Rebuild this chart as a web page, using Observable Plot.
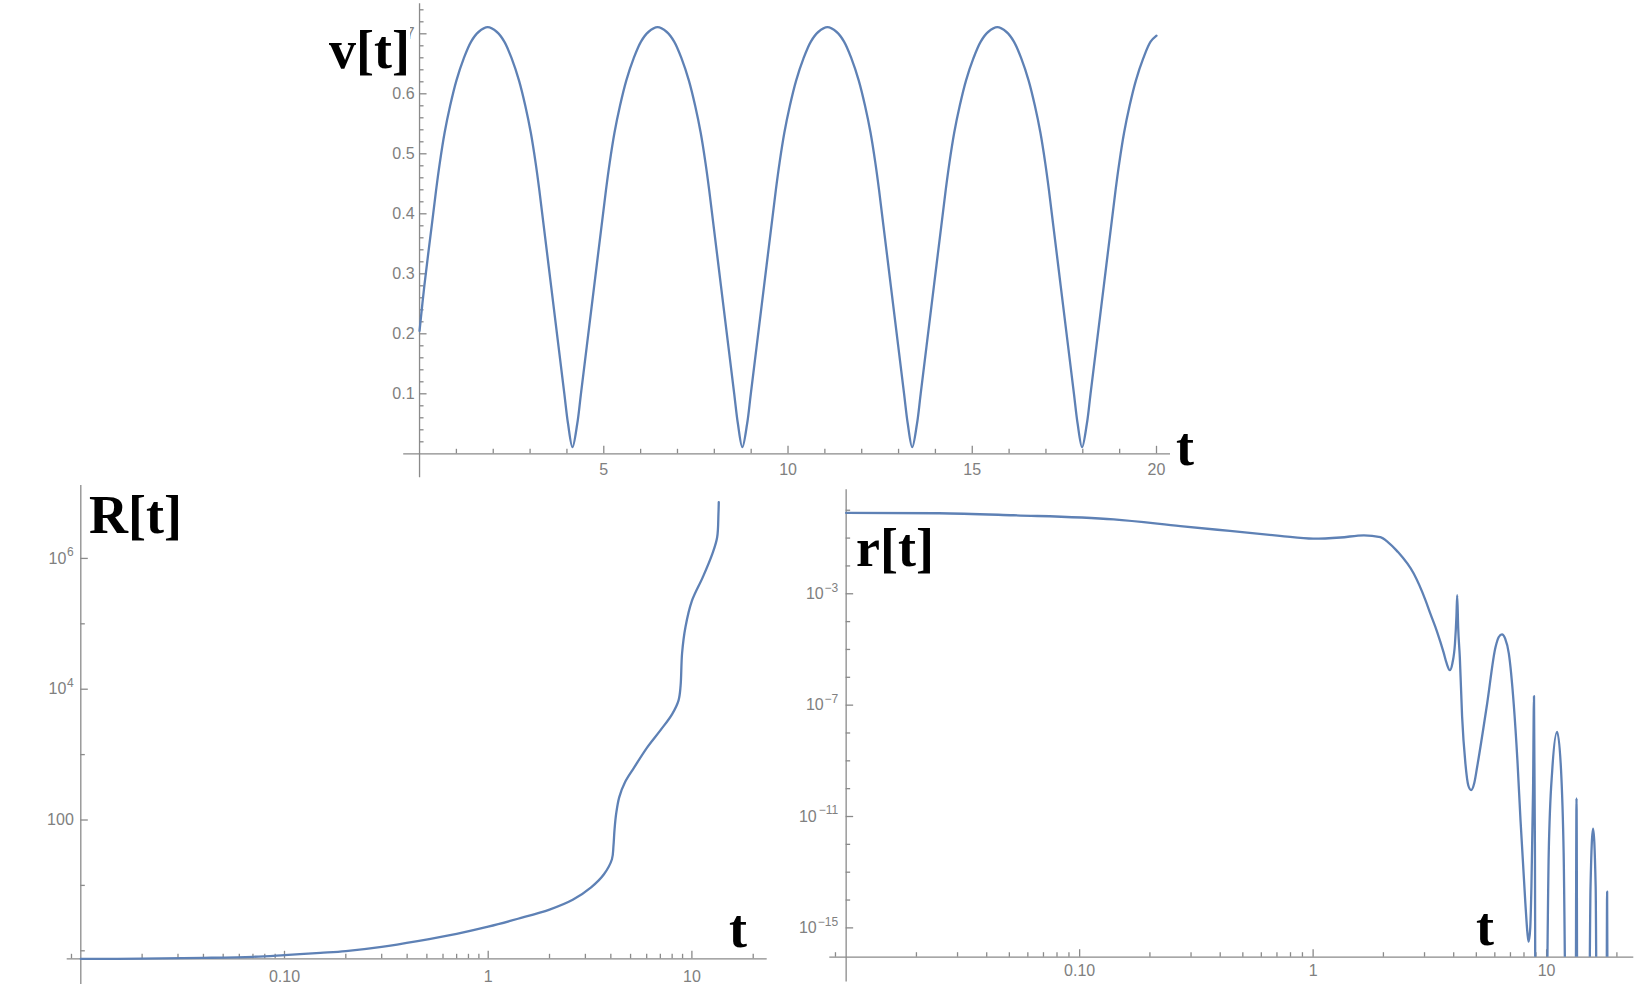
<!DOCTYPE html>
<html><head><meta charset="utf-8">
<script src="https://cdn.jsdelivr.net/npm/d3@7"></script>
<script src="https://cdn.jsdelivr.net/npm/@observablehq/plot@0.6"></script>
<style>
html,body{margin:0;padding:0;background:#fff;}
#wrap{position:relative;width:1642px;height:998px;overflow:hidden;background:#fff;}
#wrap svg{position:absolute;}
.lbl{position:absolute;font-family:"Liberation Serif","Times New Roman",serif;font-weight:bold;font-size:54px;line-height:54px;color:#000;white-space:nowrap;}
</style></head><body><div id="wrap"></div>
<script>
// ---------- data: v[t] ----------
const vT = [0,0.13,0.33,0.45,0.55,0.68,0.83,1.0,1.2,1.4,1.6,1.85,
 2.10,2.30,2.50,2.70,2.87,3.02,3.15,3.25,3.37,3.57,3.77,3.93,4.03,4.15,
 4.28,4.38,4.54,4.74,4.94,5.06,5.16,5.29,5.44,5.61,5.81,6.01,6.21,6.46,
 6.71,6.91,7.11,7.31,7.48,7.63,7.76,7.86,7.98,8.18,8.38,8.54,8.64,8.76,
 8.89,8.99,9.15,9.35,9.55,9.67,9.77,9.90,10.05,10.22,10.42,10.62,10.82,11.07,
 11.32,11.52,11.72,11.92,12.09,12.24,12.37,12.47,12.59,12.79,12.99,13.15,13.25,13.37,
 13.50,13.60,13.76,13.96,14.16,14.28,14.38,14.51,14.66,14.83,15.03,15.23,15.43,15.68,
 15.93,16.13,16.33,16.53,16.70,16.85,16.98,17.08,17.20,17.40,17.60,17.76,17.86,17.98,
 18.11,18.21,18.37,18.57,18.77,18.89,18.99,19.12,19.27,19.44,19.64,19.84,20.0];
const vV = [0.205,0.28,0.38,0.44,0.485,0.535,0.58,0.622,0.659,0.687,0.703,0.711,
 0.703,0.687,0.659,0.622,0.58,0.535,0.485,0.44,0.38,0.28,0.18,0.10,0.05,0.011,
 0.05,0.10,0.18,0.28,0.38,0.44,0.485,0.535,0.58,0.622,0.659,0.687,0.703,0.711,
 0.703,0.687,0.659,0.622,0.58,0.535,0.485,0.44,0.38,0.28,0.18,0.10,0.05,0.011,
 0.05,0.10,0.18,0.28,0.38,0.44,0.485,0.535,0.58,0.622,0.659,0.687,0.703,0.711,
 0.703,0.687,0.659,0.622,0.58,0.535,0.485,0.44,0.38,0.28,0.18,0.10,0.05,0.011,
 0.05,0.10,0.18,0.28,0.38,0.44,0.485,0.535,0.58,0.622,0.659,0.687,0.703,0.711,
 0.703,0.687,0.659,0.622,0.58,0.535,0.485,0.44,0.38,0.28,0.18,0.10,0.05,0.011,
 0.05,0.10,0.18,0.28,0.38,0.44,0.485,0.535,0.58,0.622,0.659,0.687,0.697];
const vYMajor = [0.1,0.2,0.3,0.4,0.5,0.6,0.7];
const vYLabels = ["0.1","0.2","0.3","0.4","0.5","0.6","0.7"];
const vYMinor = [0.02,0.04,0.06,0.08,0.12,0.14,0.16,0.18,0.22,0.24,0.26,0.28,0.32,0.34,0.36,0.38,0.42,0.44,0.46,0.48,0.52,0.54,0.56,0.58,0.62,0.64,0.66,0.68,0.72,0.74];
const vXMajor = [5,10,15,20];
const vXLabels = ["5","10","15","20"];
const vXMinor = [1,2,3,4,6,7,8,9,11,12,13,14,16,17,18,19];

// ---------- data: R[t] ----------
const RT = [0.01,0.02,0.04,0.07,0.1,0.15,0.2,0.3,0.45,0.7,1,1.4,2,2.6,3.2,3.7,4.05,4.12,4.17,4.25,4.4,4.7,5.2,6,7,8,8.6,8.8,8.95,9.3,10,11.3,12.6,13.3,13.5,13.55];
const RV = [0.75,0.76,0.78,0.81,0.86,0.93,0.99,1.15,1.41,1.82,2.34,3.09,4.27,6.03,9.33,14.8,25.1,39.8,70.8,126,224,380,631,1259,2344,4169,6761,11220,35480,89130,223900,512900,1175000,2089000,4786000,7244000];
const RYMajor = [100,1e4,1e6];
const RYBase = ["100","10","10"];
const RYExp = ["","4","6"];
const RYMinor = [1,10,1000,1e5];

// ---------- data: r[t] ----------
const rT = [0.01,0.025,0.052,0.14,0.27,0.44,0.72,1.0,1.31,1.65,1.94,2.09,2.29,2.70,3.03,3.18,3.39,3.62,3.73,3.85,3.95,4.05,4.11,4.14,4.18,4.25,4.345,4.49,4.62,4.75,4.90,5.04,5.56,6.04,6.24,6.44,6.64,6.89,7.23,7.50,7.73,8.11,8.28,8.375,8.51,8.61,8.75,8.83,8.91,8.97,9.91,10.21,10.57,11.09,11.53,11.83,12.16,13.30,13.43,13.55,15.14,15.42,15.81,16.22,16.44,18.03,18.16,18.28];
const rV = [0.80,0.78,0.66,0.47,0.27,0.18,0.12,0.095,0.105,0.126,0.108,0.072,0.034,0.0052,5.8e-4,1.9e-4,4.5e-5,7.9e-6,3.2e-6,1.8e-6,3.2e-6,1.6e-5,1.6e-4,8.9e-4,6.3e-5,5.0e-6,4.0e-8,7.9e-10,1.3e-10,8.9e-11,1.6e-10,6.0e-10,1.1e-7,1.2e-5,2.8e-5,3.5e-5,2.5e-5,7.1e-6,1.1e-7,1e-9,7.4e-12,7.6e-15,6.3e-16,3.2e-16,1e-15,3.2e-14,1e-10,2.1e-7,1e-12,1e-20,1e-20,4.7e-13,4.6e-10,1.1e-8,4.6e-10,4.7e-13,1e-20,1e-20,4.5e-11,1e-20,1e-20,3.0e-14,3.7e-12,3.0e-14,1e-20,1e-20,2.0e-14,1e-20];
const rYMajor = [1e-3,1e-7,1e-11,1e-15];
const rYBase = ["10","10","10","10"];
const rYExp = ["\u22123","\u22127","\u221211","\u221215"];
const rYMinor = [1,0.1,0.01,1e-4,1e-5,1e-6,1e-8,1e-9,1e-10,1e-12,1e-13,1e-14];

// shared log x ticks
const logXMajor = [0.1,1,10];
const logXLabels = ["0.10","1","10"];
const logXMinor = [0.009,0.02,0.03,0.04,0.05,0.06,0.07,0.08,0.09,0.2,0.3,0.4,0.5,0.6,0.7,0.8,0.9,2,3,4,5,6,7,8,9,20];

// ---------- style ----------
const CURVE = "#5e81b5", AX = "#8a8a8a", AW = 1.3, LBL = "#808080";
const TF = "Liberation Sans, Arial, sans-serif", TS = 16, ES = 12;
const MAJ = 7.5, MIN = 4.5;
const wrap = document.getElementById("wrap");
function place(svg, left, top){ svg.style.left = left+"px"; svg.style.top = top+"px"; wrap.appendChild(svg); }
const expW = s => s.length * ES * 0.58;

function powLabels(vals, base, exps, gap) {
  return [
    Plot.text(vals,{x:()=>0.01,y:d=>d,text:(d,i)=>exps[i],textAnchor:"end",dx:-gap,dy:-6,fill:LBL,fontSize:ES,fontFamily:TF}),
    ...vals.map((v,i)=>Plot.text([v],{x:()=>0.01,y:d=>d,text:()=>base[i],textAnchor:"end",dx:-gap-(exps[i]?expW(exps[i])+0.5:0),fill:LBL,fontSize:TS,fontFamily:TF}))
  ];
}

// ---------- v[t] ----------
{
  const W=1642,H=480,mL=403.2,mR=472,mT=3.3,mB=2.7, xd=[-0.43,20.38], yd=[-0.04,0.75];
  const kx=(W-mL-mR)/(xd[1]-xd[0]), ky=(H-mT-mB)/(yd[1]-yd[0]);
  const data = vT.map((t,i)=>({t, v:vV[i]}));
  const svg = Plot.plot({
    width:W,height:H,marginLeft:mL,marginRight:mR,marginTop:mT,marginBottom:mB,
    x:{domain:xd,axis:null}, y:{domain:yd,axis:null},
    style:{background:"transparent",overflow:"visible"},
    marks:[
      Plot.ruleY([0],{stroke:AX,strokeWidth:AW}),
      Plot.ruleX([0],{stroke:AX,strokeWidth:AW}),
      Plot.ruleY(vYMinor,{y:d=>d,x1:()=>0,x2:()=>MIN/kx,stroke:AX,strokeWidth:AW}),
      Plot.ruleY(vYMajor,{y:d=>d,x1:()=>0,x2:()=>MAJ/kx,stroke:AX,strokeWidth:AW}),
      Plot.ruleX(vXMinor,{x:d=>d,y1:()=>0,y2:()=>MIN/ky,stroke:AX,strokeWidth:AW}),
      Plot.ruleX(vXMajor,{x:d=>d,y1:()=>0,y2:()=>MAJ/ky,stroke:AX,strokeWidth:AW}),
      Plot.text(vYMajor,{x:()=>0,y:d=>d,text:(d,i)=>vYLabels[i],textAnchor:"end",dx:-5,fill:LBL,fontSize:TS,fontFamily:TF}),
      Plot.text(vXMajor,{x:d=>d,y:()=>0,text:(d,i)=>vXLabels[i],dy:16,fill:LBL,fontSize:TS,fontFamily:TF}),
      Plot.line(data,{x:"t",y:"v",stroke:CURVE,strokeWidth:2.3,curve:"catmull-rom"})
    ]
  });
  place(svg,0,0);
}

// ---------- R[t] ----------
{
  const W=800,H=528,mL=66.7,mR=33.3,mT=15,mB=39.7;
  const lx=[-2.0668,1.3697], ly=[-0.1223,7.115];
  const xd=[10**lx[0],10**lx[1]], yd=[10**ly[0],10**ly[1]];
  const kx=(W-mL-mR)/(lx[1]-lx[0]), ky=(H-mT-mB)/(ly[1]-ly[0]);
  const data = RT.map((t,i)=>({t, R:RV[i]}));
  const svg = Plot.plot({
    width:W,height:H,marginLeft:mL,marginRight:mR,marginTop:mT,marginBottom:mB,
    x:{type:"log",domain:xd,axis:null}, y:{type:"log",domain:yd,axis:null},
    style:{background:"transparent",overflow:"visible"},
    marks:[
      Plot.ruleY([yd[0]],{stroke:AX,strokeWidth:AW}),
      Plot.ruleX([0.01],{y1:()=>10**-0.515,y2:()=>yd[1],stroke:AX,strokeWidth:AW}),
      Plot.ruleY(RYMinor,{y:d=>d,x1:()=>0.01,x2:()=>0.01*10**(MIN/kx),stroke:AX,strokeWidth:AW}),
      Plot.ruleY(RYMajor,{y:d=>d,x1:()=>0.01,x2:()=>0.01*10**(MAJ/kx),stroke:AX,strokeWidth:AW}),
      Plot.ruleX(logXMinor,{x:d=>d,y1:()=>yd[0],y2:()=>yd[0]*10**(MIN/ky),stroke:AX,strokeWidth:AW}),
      Plot.ruleX(logXMajor,{x:d=>d,y1:()=>yd[0],y2:()=>yd[0]*10**(MAJ/ky),stroke:AX,strokeWidth:AW}),
      ...powLabels(RYMajor, RYBase, RYExp, 7),
      Plot.text(logXMajor,{x:d=>d,y:()=>yd[0],text:(d,i)=>logXLabels[i],dy:18,fill:LBL,fontSize:TS,fontFamily:TF}),
      Plot.line(data,{x:"t",y:"R",stroke:CURVE,strokeWidth:2.3,curve:"catmull-rom"})
    ]
  });
  place(svg,0,470);
}

// ---------- r[t] ----------
{
  const W=842,H=528,mL=29.3,mR=8.7,mT=19.3,mB=41.3;
  const lx=[-2.070,1.3734], ly=[-16.053,0.7343];
  const xd=[10**lx[0],10**lx[1]], yd=[10**ly[0],10**ly[1]];
  const kx=(W-mL-mR)/(lx[1]-lx[0]), ky=(H-mT-mB)/(ly[1]-ly[0]);
  const data = rT.map((t,i)=>({t, r:rV[i]}));
  const svg = Plot.plot({
    width:W,height:H,marginLeft:mL,marginRight:mR,marginTop:mT,marginBottom:mB,
    x:{type:"log",domain:xd,axis:null}, y:{type:"log",domain:yd,axis:null},
    style:{background:"transparent",overflow:"visible"},
    marks:[
      Plot.ruleY([yd[0]],{stroke:AX,strokeWidth:AW}),
      Plot.ruleX([0.01],{y1:()=>10**-16.946,y2:()=>yd[1],stroke:AX,strokeWidth:AW}),
      Plot.ruleY(rYMinor,{y:d=>d,x1:()=>0.01,x2:()=>0.01*10**(MIN/kx),stroke:AX,strokeWidth:AW}),
      Plot.ruleY(rYMajor,{y:d=>d,x1:()=>0.01,x2:()=>0.01*10**(MAJ/kx),stroke:AX,strokeWidth:AW}),
      Plot.ruleX(logXMinor,{x:d=>d,y1:()=>yd[0],y2:()=>yd[0]*10**(MIN/ky),stroke:AX,strokeWidth:AW}),
      Plot.ruleX(logXMajor,{x:d=>d,y1:()=>yd[0],y2:()=>yd[0]*10**(MAJ/ky),stroke:AX,strokeWidth:AW}),
      ...powLabels(rYMajor, rYBase, rYExp, 8),
      Plot.text(logXMajor,{x:d=>d,y:()=>yd[0],text:(d,i)=>logXLabels[i],dy:14,fill:LBL,fontSize:TS,fontFamily:TF}),
      Plot.line(data,{x:"t",y:"r",stroke:CURVE,strokeWidth:2.3,curve:"monotone-x",clip:true})
    ]
  });
  place(svg,800,470);
}

// ---------- big serif labels ----------
const labels = [
  {text:"v[t]", left:329, top:23, bg:true},
  {text:"t", left:1176, top:420},
  {text:"R[t]", left:89, top:488},
  {text:"r[t]", left:856, top:521},
  {text:"t", left:729, top:902},
  {text:"t", left:1476, top:900}
];
for (const l of labels) {
  const d = document.createElement("div");
  d.className = "lbl";
  d.textContent = l.text;
  d.style.left = l.left+"px"; d.style.top = l.top+"px";
  if (l.bg) d.style.background = "#fff";
  wrap.appendChild(d);
}
</script></body></html>
